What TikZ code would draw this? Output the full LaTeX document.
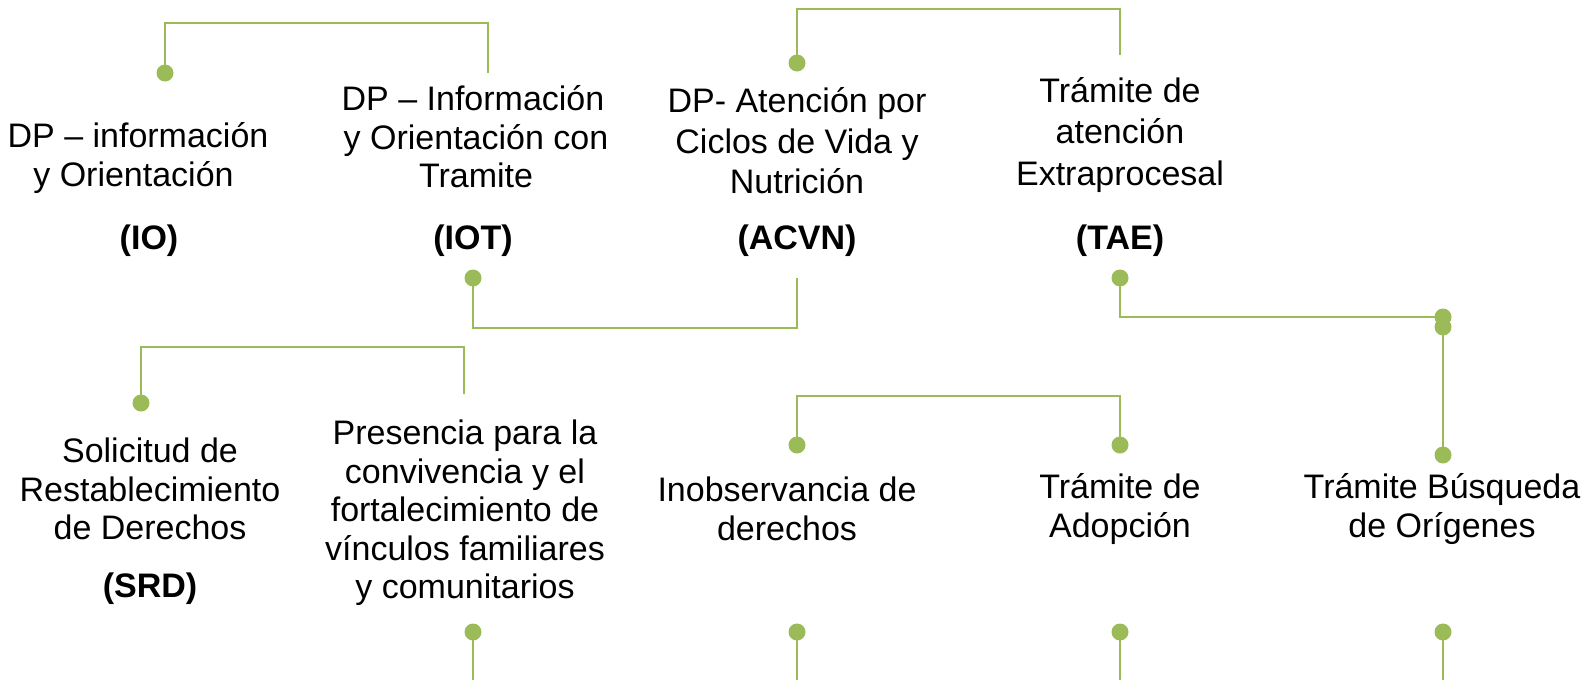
\documentclass[tikz,border=0pt]{standalone}
\usepackage{fontspec}
\setmainfont{Liberation Sans}
\definecolor{olive}{HTML}{9BBB59}
\begin{document}
\begin{tikzpicture}[x=1pt,y=-1pt,
  dot/.style={circle,fill=olive,inner sep=0pt,minimum size=17pt},
  link/.style={draw=olive,line width=2.2pt},
  lbl/.style={align=center,inner sep=0pt,font=\fontsize{34}{38.5}\selectfont},
  abbr/.style={inner sep=0pt,font=\fontsize{34}{38.5}\selectfont\bfseries}]
\useasboundingbox (0,0) rectangle (1585,680);
% levels
\coordinate (t1) at (0,23);
\coordinate (t2) at (0,9);
\coordinate (t3) at (0,328);
\coordinate (t4) at (0,317);
\coordinate (t5) at (0,396);
\coordinate (t6) at (0,347);
\coordinate (bot) at (0,680);
% dots
\node[dot] (d1) at (165,73) {};
\coordinate (e1) at (488,73);
\node[dot] (d2) at (797,63) {};
\coordinate (e2) at (1120,55);
\node[dot] (d3) at (473,278) {};
\coordinate (e3) at (797,278);
\node[dot] (d4) at (1120,278) {};
\node[dot] (d5) at (1443,317) {};
\node[dot] (d6) at (1443,327) {};
\node[dot] (d7) at (1443,455) {};
\node[dot] (d8) at (797,445) {};
\node[dot] (d9) at (1120,445) {};
\node[dot] (d10) at (141,403) {};
\coordinate (e6) at (464,394);
\node[dot] (b1) at (473,632) {};
\node[dot] (b2) at (797,632) {};
\node[dot] (b3) at (1120,632) {};
\node[dot] (b4) at (1443,632) {};
% connectors
\draw[link] (d1.center) -- (d1.center |- t1) -| (e1);
\draw[link] (d2.center) -- (d2.center |- t2) -| (e2);
\draw[link] (d3.center) -- (d3.center |- t3) -| (e3);
\draw[link] (d4.center) |- (d5.center);
\draw[link] (d6.center) -- (d7.center);
\draw[link] (d8.center) -- (d8.center |- t5) -| (d9.center);
\draw[link] (d10.center) -- (d10.center |- t6) -| (e6);
\foreach \b in {b1,b2,b3,b4} \draw[link] (\b.center) -- (\b.center |- bot);
% texts
\node[lbl] (io) at (138,158) {DP – información\\y Orientación\hspace*{9pt}};
\node[abbr] (ioa) at (149,241) {(IO)};
\node[lbl] (iot) at (476,137) {DP – Información\hspace*{6pt}\\y Orientación con\\Tramite};
\node[abbr] (iota) at (473,241) {(IOT)};
\node[lbl,font=\fontsize{34}{40.5}\selectfont] (acvn) at (797,141) {DP- Atención por\\Ciclos de Vida y\\Nutrición};
\node[abbr] (acvna) at (797,241) {(ACVN)};
\node[lbl,font=\fontsize{34}{41.5}\selectfont] (tae) at (1120,135) {Trámite de\\atención\\Extraprocesal};
\node[abbr] (taea) at (1120,241) {(TAE)};
\node[lbl] (srd) at (150,489) {Solicitud de\\Restablecimiento\\de Derechos};
\node[abbr] (srda) at (150,589) {(SRD)};
\node[lbl] (pres) at (465,513) {Presencia para la\\convivencia y el\\fortalecimiento de\\vínculos familiares\\y comunitarios};
\node[lbl] (inob) at (787,509) {Inobservancia de\\derechos};
\node[lbl] (adop) at (1120,509) {Trámite de\\Adopción};
\node[lbl] (busq) at (1442,509) {Trámite Búsqueda\\de Orígenes};
\end{tikzpicture}
\end{document}
